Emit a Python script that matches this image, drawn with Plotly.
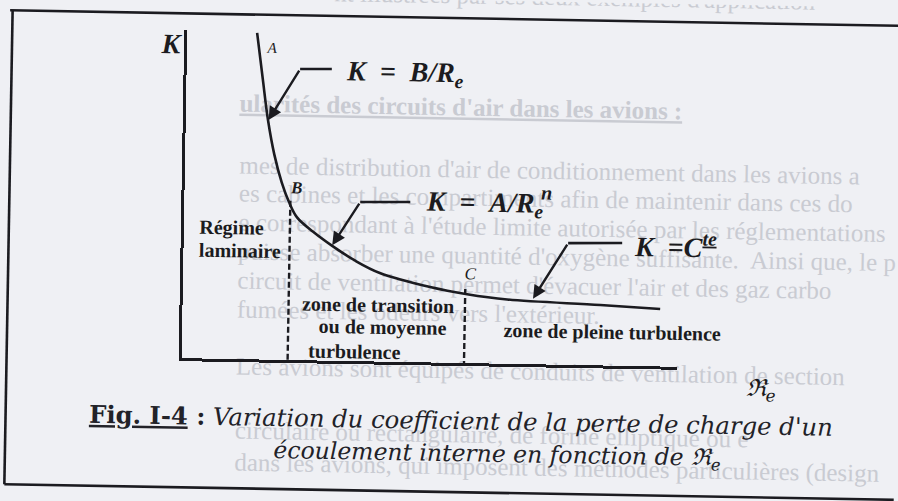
import plotly.graph_objects as go

W, H = 898, 501

# ---- loss coefficient K versus Reynolds number (arbitrary units) ----------
re_curve = [1.41, 1.54, 1.66, 1.80, 1.96, 2.11, 2.28, 2.61, 3.00, 3.47, 3.97,
            4.99, 5.74, 6.55, 8.43, 9.64]
k_curve = [9.95, 8.55, 7.30, 6.25, 5.40, 4.82, 4.35, 3.92, 3.50, 3.06, 2.70,
           2.30, 2.10, 1.96, 1.84, 1.75]

# regime limits B (laminar -> transition) and C (transition -> full turbulence)
re_limits = [2.14, 5.70]
k_limits = [4.85, 2.26]

# ---- texts ------------------------------------------------------------------
SP = "\u2002"
point_names = ["A", "B", "C"]
formulas = ["K" + SP + "=" + SP + "B/R<sub>e</sub>",
            "K" + SP + "=" + SP + "A/R<sub>e</sub>",
            "K" + SP + "=C<sup><u>te</u></sup>"]
exponent = "n"
regimes = ["Régime", "laminaire", "zone de transition", "ou de moyenne",
           "turbulence", "zone de pleine turbulence"]
axis_k = "K"
axis_re = "ℜ<sub>e</sub>"
caption = [
    "<b><u>Fig. I-4</u> :</b> <i>Variation du coefficient de la perte de charge d'un</i>",
    "<i>écoulement interne en fonction de ℜ<sub>e</sub></i>",
]
# running text of the printed page, showing faintly behind the figure
page_lines = [
    "nt illustrées par ses deux exemples d'application",
    "<b><u>ularités des circuits d'air dans les avions :</u></b>",
    "mes de distribution d'air de conditionnement dans les avions a",
    "es cabines et les compartiments afin de maintenir dans ces do",
    "e correspondant à l'étude limite autorisée par les réglementations",
    "puisse absorber une quantité d'oxygène suffisante.  Ainsi que, le p",
    "circuit de ventilation permet d'évacuer l'air et des gaz carbo",
    "fumées et les odeurs vers l'extérieur.",
    "Les avions sont équipés de conduits de ventilation de section",
    "circulaire ou rectangulaire, de forme elliptique ou e",
    "dans les avions, qui imposent des méthodes particulières (design",
]
page_x = [330, 237, 238, 238, 238, 238, 238, 238, 238, 238, 238]
page_y = [-3, 109, 171, 199, 228, 257, 286, 315, 372, 436, 468]

INK = "#1b1b20"
PAPER = "#eff0f4"
GHOST = "#c9cbd2"
SERIF = "Liberation Serif, Times New Roman, serif"
CAPF = "DejaVu Serif, serif"

fig = go.Figure()

# faint page text, on a pixel-based full-page axis pair (drawn first, underneath)
fig.add_trace(go.Scatter(
    x=page_x, y=page_y, text=page_lines, mode="text", textposition="middle right",
    textfont=dict(family=SERIF, size=25, color=GHOST), hoverinfo="skip",
    xaxis="x", yaxis="y", cliponaxis=True))

# K(Re) curve
fig.add_trace(go.Scatter(
    x=re_curve, y=k_curve, mode="lines", xaxis="x2", yaxis="y2",
    line=dict(color=INK, width=2.6, shape="spline", smoothing=1.0),
    hoverinfo="skip"))

# dashed regime limits
for xr, kt in zip(re_limits, k_limits):
    fig.add_trace(go.Scatter(
        x=[xr, xr], y=[kt, 0], mode="lines", xaxis="x2", yaxis="y2",
        line=dict(color=INK, width=2.4, dash="6px,3px"), hoverinfo="skip"))

ann = []
shapes = []


def txt(x, y, text, size, family=SERIF, weight="normal", style="normal",
        xanchor="center", ref="data", color=INK):
    if ref == "data":
        xr, yr = "x2", "y2"
    else:
        xr, yr = "paper", "paper"
        x, y = x / W, 1 - y / H
    ann.append(dict(x=x, y=y, xref=xr, yref=yr, text=text, showarrow=False,
                    xanchor=xanchor, yanchor="middle", borderpad=0,
                    font=dict(family=family, size=size, color=color,
                              weight=weight, style=style)))


# point labels
txt(1.715, 9.50, point_names[0], 15, style="italic")
txt(2.25, 5.24, point_names[1], 17, weight="bold", style="italic")
txt(5.81, 2.72, point_names[2], 17, style="italic")

# leaders from the formulas to the curve: horizontal stroke + arrow
leaders = [
    ((1.67, 7.30), (2.29, 8.87), (2.93, 8.89)),
    ((3.00, 3.52), (3.55, 4.85), (4.56, 4.88)),
    ((7.07, 2.00), (7.76, 3.71), (8.85, 3.74)),
]
for tip, corner, end in leaders:
    shapes.append(dict(type="line", xref="x2", yref="y2", x0=corner[0], y0=corner[1],
                       x1=end[0], y1=end[1], line=dict(color=INK, width=2.6)))
    ann.append(dict(x=tip[0], y=tip[1], ax=corner[0], ay=corner[1], xref="x2", yref="y2",
                    axref="x2", ayref="y2", text="", showarrow=True, arrowhead=2,
                    arrowsize=1.1, arrowwidth=2.4, arrowcolor=INK, standoff=0))

# formulas
txt(3.20, 8.78, formulas[0], 28, weight="bold", style="italic", xanchor="left")
txt(4.86, 4.86, formulas[1], 28, weight="bold", style="italic", xanchor="left")
txt(7.30, 5.23, exponent, 20, weight="bold", style="italic")
txt(9.07, 3.69, formulas[2], 28, weight="bold", style="italic", xanchor="left")

# regime names
txt(0.30, 4.00, regimes[0], 20, weight="bold", xanchor="left")
txt(0.29, 3.30, regimes[1], 20, weight="bold", xanchor="left")
txt(3.94, 1.72, regimes[2], 20, weight="bold")
txt(4.04, 1.05, regimes[3], 20, weight="bold")
txt(2.53, 0.31, regimes[4], 20, weight="bold", xanchor="left")
txt(8.68, 1.03, regimes[5], 20, weight="bold")

# axis names
txt(168.4, 48.8, axis_k, 28, weight="bold", style="italic", ref="paper")
txt(763.4, 384.6, axis_re, 24, family=CAPF, style="italic", ref="paper")

# caption
txt(464, 420, caption[0], 24.3, family=CAPF, ref="paper", color="#222228")
txt(500, 454, caption[1], 23.5, family=CAPF, ref="paper", color="#222228")

# frame around the figure (open on the right, where the sheet runs on)
for x0, y0, x1, y1 in [(6, 18, 898, 18), (8.5, 18, 8.5, 492), (8.5, 492, 898, 492)]:
    shapes.append(dict(type="line", xref="paper", yref="paper",
                       x0=x0 / W, y0=1 - y0 / H, x1=x1 / W, y1=1 - y1 / H,
                       line=dict(color=INK, width=2.6)))

hidden = dict(visible=False, showgrid=False, zeroline=False, fixedrange=True)
chart_axis = dict(showline=True, linecolor=INK, linewidth=2.6, showgrid=False,
                  zeroline=False, showticklabels=False, ticks="", fixedrange=True,
                  range=[0, 10])

fig.update_layout(
    width=W, height=H, margin=dict(l=0, r=0, t=0, b=0),
    paper_bgcolor=PAPER, plot_bgcolor="rgba(0,0,0,0)", showlegend=False,
    xaxis=dict(domain=[0, 1], range=[0, W], anchor="y", **hidden),
    yaxis=dict(domain=[0, 1], range=[H, 0], anchor="x", **hidden),
    xaxis2=dict(domain=[183.5 / W, 679 / W], anchor="y2", **chart_axis),
    yaxis2=dict(domain=[1 - 362.8 / H, 1 - 34.6 / H], anchor="x2", **chart_axis),
    annotations=ann, shapes=shapes,
)

# the printed sheet sits about one degree off square: every drawing layer of
# the svg is wrapped in a group rotated about the centre of the figure; the
# page itself gets no margin so the figure fills the window exactly
post = (
    "var de=document.documentElement, bd=document.body;"
    "bd.style.margin='0';bd.style.padding='0';bd.style.overflow='hidden';"
    "de.style.overflow='hidden';bd.style.background='" + PAPER + "';"
    "de.style.background='" + PAPER + "';"
    "var NS='http://www.w3.org/2000/svg';"
    "var root=document.getElementById('{plot_id}');"
    "root.querySelectorAll('svg.main-svg').forEach(function(s){"
    "var g=document.createElementNS(NS,'g');"
    "g.setAttribute('transform','rotate(1 449 250.5)');"
    "Array.from(s.childNodes).forEach(function(n){"
    "if(n.nodeName.toLowerCase()!=='defs'){g.appendChild(n);}});"
    "s.appendChild(g);});"
)
fig.write_html("out.html", post_script=post, config={"displayModeBar": False})
